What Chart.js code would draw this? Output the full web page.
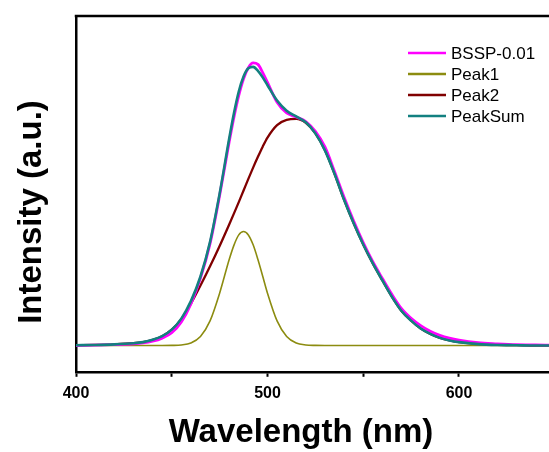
<!DOCTYPE html>
<html>
<head>
<meta charset="utf-8">
<script src="https://cdn.jsdelivr.net/npm/chart.js@4.4.1/dist/chart.umd.min.js"></script>
<style>
  html, body { margin: 0; padding: 0; background: #fff; overflow: hidden; }
</style>
</head>
<body>
<canvas id="mychart" width="549" height="452"></canvas>
<script>
// 波長 (nm)
const wavelength = [400, 410, 420, 430, 435, 440, 445, 450, 455, 460, 465, 470, 475, 480,
  482.5, 485, 487.5, 490, 492.5, 495, 497.5, 500, 505, 510, 515, 520, 525, 530, 535, 540,
  545, 550, 555, 560, 565, 570, 575, 580, 585, 590, 595, 600, 610, 620, 630, 640, 650];

// 測定スペクトル
const bssp = [0, 0.001, 0.003, 0.006, 0.009, 0.015, 0.026, 0.045, 0.083, 0.147, 0.238, 0.36, 0.53, 0.72,
  0.808, 0.884, 0.943, 0.982, 0.999, 0.994, 0.965, 0.93, 0.86, 0.822, 0.808, 0.792, 0.757, 0.702, 0.615, 0.524,
  0.44, 0.364, 0.296, 0.237, 0.18, 0.13, 0.096, 0.07, 0.05, 0.036, 0.026, 0.019, 0.01, 0.006, 0.003, 0.002, 0.001];

// フィット成分
const peak1 = [0, 0, 0, 0, 0, 0, 0, 0.0004, 0.002, 0.009, 0.032, 0.087, 0.185, 0.304,
  0.355, 0.391, 0.403, 0.391, 0.356, 0.304, 0.245, 0.185, 0.087, 0.032, 0.009, 0.002, 0.0004, 0, 0, 0,
  0, 0, 0, 0, 0, 0, 0, 0, 0, 0, 0, 0, 0, 0, 0, 0, 0];

const peak2 = [0.001, 0.002, 0.004, 0.008, 0.012, 0.02, 0.033, 0.056, 0.093, 0.148, 0.212, 0.28, 0.352, 0.428,
  0.467, 0.507, 0.548, 0.589, 0.629, 0.667, 0.703, 0.735, 0.779, 0.798, 0.801, 0.787, 0.75, 0.69, 0.607, 0.515,
  0.432, 0.357, 0.29, 0.23, 0.172, 0.122, 0.088, 0.06, 0.041, 0.027, 0.018, 0.012, 0.005, 0.002, 0.001, 0, 0];

const peakSum = [0.001, 0.002, 0.004, 0.008, 0.012, 0.02, 0.033, 0.056, 0.095, 0.157, 0.244, 0.367, 0.537, 0.732,
  0.822, 0.898, 0.951, 0.98, 0.985, 0.971, 0.948, 0.92, 0.866, 0.83, 0.81, 0.789, 0.75, 0.69, 0.607, 0.515,
  0.432, 0.357, 0.29, 0.23, 0.172, 0.122, 0.088, 0.06, 0.041, 0.027, 0.018, 0.012, 0.005, 0.002, 0.001, 0, 0];

const xTicks = [400, 450, 500, 550, 600];

const FONT = "'Liberation Sans', Arial, sans-serif";

function toPoints(ys) {
    return wavelength.map((x, i) => ({ x: x, y: ys[i] }));
}

// 上の枠線
const framePlugin = {
    id: 'frame',
    afterDraw(chart) {
        const c = chart.ctx;
        const a = chart.chartArea;
        c.save();
        c.strokeStyle = '#000';
        c.lineWidth = 2.5;
        c.beginPath();
        c.moveTo(a.left - 1.25, a.top);
        c.lineTo(chart.width, a.top);
        c.stroke();
        c.restore();
    }
};

// 軸タイトル
const titlePlugin = {
    id: 'titles',
    afterDraw(chart) {
        const c = chart.ctx;
        c.save();
        c.fillStyle = '#000';
        c.font = 'bold 33px ' + FONT;
        c.textAlign = 'center';
        c.textBaseline = 'alphabetic';
        c.fillText('Wavelength (nm)', 301, 442);
        c.translate(41, 212);
        c.rotate(-Math.PI / 2);
        c.fillText('Intensity (a.u.)', 0, 0);
        c.restore();
    }
};

// 凡例
const legendPlugin = {
    id: 'myLegend',
    afterDraw(chart) {
        const c = chart.ctx;
        c.save();
        c.font = '17px ' + FONT;
        c.textBaseline = 'middle';
        c.fillStyle = '#000';
        chart.data.datasets.forEach((ds, i) => {
            const y = 53 + i * 21;
            c.strokeStyle = ds.borderColor;
            c.lineWidth = 2.5;
            c.beginPath();
            c.moveTo(408, y);
            c.lineTo(446, y);
            c.stroke();
            c.fillText(ds.label, 451, y + 1);
        });
        c.restore();
    }
};

const ctx = document.getElementById('mychart');
const myChart = new Chart(ctx, {
    type: 'line',
    data: {
        datasets: [
            { label: 'BSSP-0.01', data: toPoints(bssp), borderColor: '#ff00ff', borderWidth: 2.8, order: 1 },
            { label: 'Peak1', data: toPoints(peak1), borderColor: '#8c8c10', borderWidth: 1.6, order: 1 },
            { label: 'Peak2', data: toPoints(peak2), borderColor: '#800000', borderWidth: 2.3, order: 1 },
            { label: 'PeakSum', data: toPoints(peakSum), borderColor: '#138080', borderWidth: 2.6, order: 0 },
        ].map(ds => Object.assign(ds, { pointRadius: 0, fill: false, cubicInterpolationMode: 'monotone' })),
    },
    options: {
        responsive: false,
        animation: false,
        layout: { padding: { left: 76, top: 16, right: 0, bottom: 42 } },
        plugins: { legend: { display: false }, tooltip: { enabled: false } },
        scales: {
            x: {
                type: 'linear',
                min: 400,
                max: 647,
                afterBuildTicks: (scale) => { scale.ticks = xTicks.map(v => ({ value: v })); },
                ticks: {
                    autoSkip: false,
                    maxRotation: 0,
                    color: '#000',
                    padding: 7,
                    font: { family: FONT, size: 16, weight: 'bold' },
                    callback: (v) => (v % 100 === 0 ? String(v) : ''),
                },
                grid: { display: true, drawOnChartArea: false, drawTicks: true, tickLength: 5, tickColor: '#000', tickWidth: 2 },
                border: { display: true, color: '#000', width: 2.5 },
            },
            y: {
                min: -0.093,
                max: 1.165,
                ticks: { display: false },
                grid: { display: false, drawTicks: false },
                border: { display: true, color: '#000', width: 2.5 },
            },
        },
    },
    plugins: [framePlugin, titlePlugin, legendPlugin],
});
</script>
</body>
</html>
